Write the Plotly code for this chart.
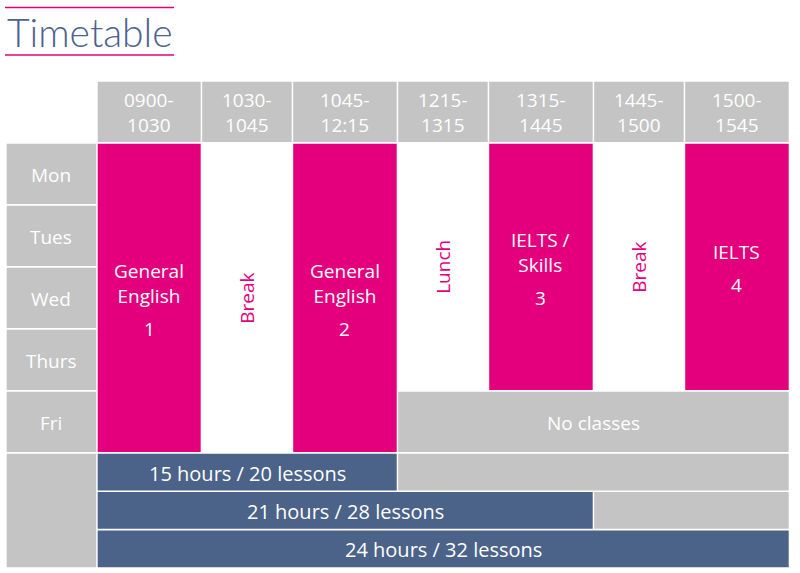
#!/usr/bin/env python3
# Weekly timetable drawn as a grid of shapes on pixel-like axes
import plotly.graph_objects as go

# ---- data ----
slots = ["0900-<br>1030", "1030-<br>1045", "1045-<br>12:15", "1215-<br>1315",
         "1315-<br>1445", "1445-<br>1500", "1500-<br>1545"]
days = ["Mon", "Tues", "Wed", "Thurs", "Fri"]

# lessons: title, number, slot index, last day index (all start on Mon)
lesson_titles = ["General<br>English", "General<br>English", "IELTS /<br>Skills", "IELTS"]
lesson_numbers = ["1", "2", "3", "4"]
lesson_slots = [0, 2, 4, 6]
lesson_last_day = [4, 4, 3, 3]

# breaks: label, slot index, last day index
break_labels = ["Break", "Lunch", "Break"]
break_slots = [1, 3, 5]
break_last_day = [4, 3, 3]

no_class_label = "No classes"
no_class_day = 4
no_class_slots = [3, 6]

packages = ["15 hours / 20 lessons", "21 hours / 28 lessons", "24 hours / 32 lessons"]
package_slot_count = [3, 5, 7]

title = "Timetable"

# ---- layout constants ----
W, H = 800, 573
PINK = "#e4007c"
GREY = "#c4c4c4"
BLUE = "#4b6289"
TITLE_COL = "#4c6290"
FONT = "Open Sans"
FS = 19

GAP = 1.5
LABEL_X0 = 6.7
LABEL_W = 89.5
COL_W = [103, 89.5, 103.5, 89.5, 103.5, 89.5, 103.5]
Y_TOP = 81.7
ROW_PITCH = 62
ROW_H = 60.3
PKG_PITCH = 38.4
PKG_H = 36.7
LINE = FS * 1.3      # plotly's own line spacing for multi-line text
NUM_GAP = 33

col_x0 = []
x = LABEL_X0 + LABEL_W + GAP
for w in COL_W:
    col_x0.append(x)
    x += w + GAP
col_x1 = [a + w for a, w in zip(col_x0, COL_W)]


def row_y0(i):   # i = 0 header, 1.. days
    return Y_TOP + i * ROW_PITCH


def row_y1(i):
    return row_y0(i) + ROW_H


pkg_y0 = [row_y0(len(days) + 1) + k * PKG_PITCH for k in range(len(packages))]
pkg_y1 = [y + PKG_H for y in pkg_y0]

shapes = []
annotations = []


def cell(x0, x1, y0, y1, color):
    shapes.append(dict(type="rect", xref="x", yref="y", x0=x0, x1=x1, y0=y0, y1=y1,
                       fillcolor=color, line=dict(width=0), layer="below"))


def label(xc, yc, text, color="white", size=FS, angle=0):
    annotations.append(dict(x=xc, y=yc, xref="x", yref="y", text=text, showarrow=False,
                            xanchor="center", yanchor="middle", textangle=angle,
                            font=dict(family=FONT, size=size, color=color)))


# header row
for i, s in enumerate(slots):
    cell(col_x0[i], col_x1[i], row_y0(0), row_y1(0), GREY)
    label((col_x0[i] + col_x1[i]) / 2, (row_y0(0) + row_y1(0)) / 2 + 1, s)

# day labels
for d, name in enumerate(days):
    cell(LABEL_X0, LABEL_X0 + LABEL_W, row_y0(d + 1), row_y1(d + 1), GREY)
    label(LABEL_X0 + LABEL_W / 2, (row_y0(d + 1) + row_y1(d + 1)) / 2 + 1, name)

# lessons
for t, n, s, last in zip(lesson_titles, lesson_numbers, lesson_slots, lesson_last_day):
    y0, y1 = row_y0(1), row_y1(last + 1)
    cell(col_x0[s], col_x1[s], y0, y1, PINK)
    nl = t.count("<br>") + 1
    first = (y0 + y1) / 2 - ((nl - 1) * LINE + NUM_GAP) / 2 + 2
    xc = (col_x0[s] + col_x1[s]) / 2
    label(xc, first + (nl - 1) * LINE / 2, t)
    label(xc, first + (nl - 1) * LINE + NUM_GAP, n)

# breaks
for b, s, last in zip(break_labels, break_slots, break_last_day):
    y0, y1 = row_y0(1), row_y1(last + 1)
    label((col_x0[s] + col_x1[s]) / 2, (y0 + y1) / 2, b, color=PINK, angle=-90)

# no classes
a, b = no_class_slots
cell(col_x0[a], col_x1[b], row_y0(no_class_day + 1), row_y1(no_class_day + 1), GREY)
label((col_x0[a] + col_x1[b]) / 2, (row_y0(no_class_day + 1) + row_y1(no_class_day + 1)) / 2 + 1,
      no_class_label)

# packages
cell(LABEL_X0, LABEL_X0 + LABEL_W, pkg_y0[0], pkg_y1[-1], GREY)
for k, (p, cnt) in enumerate(zip(packages, package_slot_count)):
    cell(col_x0[0], col_x1[cnt - 1], pkg_y0[k], pkg_y1[k], BLUE)
    if cnt < len(slots):
        cell(col_x0[cnt], col_x1[-1], pkg_y0[k], pkg_y1[k], GREY)
    label((col_x0[0] + col_x1[cnt - 1]) / 2, (pkg_y0[k] + pkg_y1[k]) / 2 + 1, p, size=20)

# title with rules above and below
for yy in (7.5, 55):
    shapes.append(dict(type="line", xref="x", yref="y", x0=5, x1=174, y0=yy, y1=yy,
                       line=dict(color=PINK, width=1.5)))
annotations.append(dict(x=5, y=32, xref="x", yref="y", text=title, showarrow=False,
                        xanchor="left", yanchor="middle",
                        font=dict(family="Lato", size=39, color=TITLE_COL, weight=300)))

fig = go.Figure()
fig.update_layout(
    width=W, height=H,
    margin=dict(l=0, r=0, t=0, b=0),
    paper_bgcolor="white", plot_bgcolor="white",
    xaxis=dict(range=[0, W], visible=False, fixedrange=True),
    yaxis=dict(range=[H, 0], visible=False, fixedrange=True),
    shapes=shapes, annotations=annotations,
    showlegend=False,
)
# drop the page's default body margin so the figure sits at the window origin
fig.write_html("out.html", config=dict(displayModeBar=False),
               post_script="document.body.style.margin='0';document.body.style.overflow='hidden';")
